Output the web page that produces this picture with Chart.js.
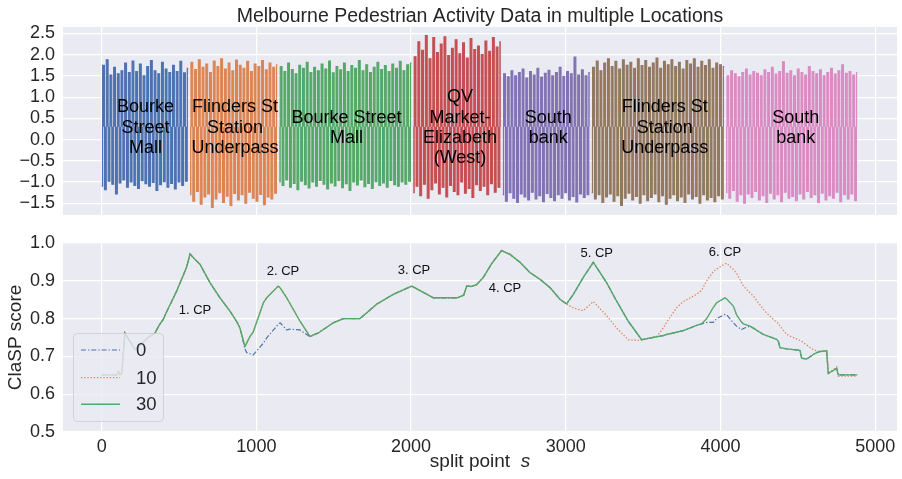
<!DOCTYPE html>
<html><head><meta charset="utf-8">
<script src="https://cdn.jsdelivr.net/npm/chart.js@4.4.0/dist/chart.umd.min.js"></script>
<style>
html,body{margin:0;padding:0;background:#fff;}
#wrap{position:relative;width:902px;height:479px;overflow:hidden;}
#c1{position:absolute;left:0;top:0;width:902px;height:230px;}
#c2{position:absolute;left:0;top:230px;width:902px;height:249px;}
</style></head><body>
<div id="wrap"><canvas id="c1" width="902" height="230"></canvas><canvas id="c2" width="902" height="249"></canvas></div>
<script>
// ---------------- DATA ----------------
const TITLE = 'Melbourne Pedestrian Activity Data in multiple Locations';
const SEG_BOUNDS = [0, 571, 1148, 2014, 2592, 3167, 4036, 4897];
const SEG_NAMES = ['Bourke\nStreet\nMall', 'Flinders St\nStation\nUnderpass', 'Bourke Street\nMall',
  'QV\nMarket-\nElizabeth\n(West)', 'South\nbank', 'Flinders St\nStation\nUnderpass', 'South\nbank'];
const SEG_LABEL_X = [284, 862, 1583, 2316, 2887, 3640, 4486];
const SEG_LABEL_Y = 0.28;

// daily peak / trough values of the z-normalised pedestrian counts, per segment
const PEAKS_BOURKE_1 = [1.75,1.88,1.52,1.70,1.55,1.62,1.80,1.58,1.85,1.60,1.78,1.50,1.72,1.86,1.62,1.55,1.82,1.66,1.58,1.75,1.60,1.84,1.57,1.68];
const TROUGHS_BOURKE_1 = [-1.10,-1.18,-0.98,-1.05,-1.28,-1.02,-0.95,-1.12,-1.00,-1.08,-1.15,-0.97,-1.04,-1.10,-1.01,-1.20,-1.06,-0.99,-1.12,-1.03,-1.16,-1.00,-1.08,-0.98];
const PEAKS_FLINDERS_1 = [1.82,1.65,1.88,1.70,1.78,1.58,1.85,1.72,1.90,1.66,1.80,1.62,1.87,1.75,1.68,1.84,1.60,1.78,1.72,1.86,1.64,1.80,1.70,1.76];
const TROUGHS_FLINDERS_1 = [-1.30,-1.45,-1.22,-1.52,-1.35,-1.28,-1.60,-1.40,-1.25,-1.48,-1.33,-1.55,-1.27,-1.42,-1.30,-1.50,-1.24,-1.38,-1.45,-1.29,-1.53,-1.35,-1.40,-1.26];
const PEAKS_BOURKE_2 = [1.72,1.60,1.80,1.65,1.55,1.75,1.68,1.82,1.58,1.70,1.62,1.78,1.66,1.85,1.57,1.72,1.64,1.80,1.60,1.74,1.68,1.86,1.62,1.76,1.58,1.70,1.82,1.65,1.74,1.60,1.78,1.68,1.84,1.62,1.76,1.80];
const TROUGHS_BOURKE_2 = [-1.00,-1.08,-0.95,-1.12,-1.03,-1.18,-0.98,-1.06,-1.14,-1.00,-1.10,-0.96,-1.05,-1.16,-1.02,-1.09,-0.97,-1.13,-1.04,-1.20,-1.00,-1.07,-0.95,-1.11,-1.03,-1.15,-0.99,-1.08,-1.02,-1.12,-0.96,-1.06,-1.10,-1.00,-1.05,-0.98];
const PEAKS_QV = [1.95,2.30,2.10,2.45,1.90,2.40,2.05,2.25,2.42,1.98,2.15,2.35,2.02,2.28,1.92,2.38,2.12,2.20,2.00,2.32,2.08,2.40,2.18,2.30];
const TROUGHS_QV = [-1.25,-1.10,-1.32,-1.05,-1.38,-1.18,-1.02,-1.28,-1.12,-1.35,-1.08,-1.22,-1.30,-1.00,-1.26,-1.15,-1.36,-1.06,-1.20,-1.10,-1.30,-1.04,-1.24,-1.12];
const PEAKS_SOUTHBANK_1 = [1.55,1.48,1.62,1.50,1.58,1.66,1.45,1.60,1.52,1.68,1.47,1.56,1.63,1.50,1.58,1.70,1.49,1.60,1.55,1.94,1.52,1.64,1.50,1.58];
const TROUGHS_SOUTHBANK_1 = [-1.30,-1.45,-1.25,-1.38,-1.48,-1.28,-1.35,-1.42,-1.24,-1.40,-1.32,-1.46,-1.27,-1.36,-1.44,-1.30,-1.38,-1.25,-1.42,-1.34,-1.47,-1.28,-1.36,-1.30];
const PEAKS_FLINDERS_2 = [1.70,1.85,1.62,1.80,1.90,1.72,1.84,1.66,1.88,1.75,1.82,1.68,1.90,1.74,1.86,1.70,1.80,1.92,1.68,1.84,1.76,1.88,1.72,1.82,1.66,1.86,1.78,1.90,1.70,1.84,1.74,1.88,1.68,1.80,1.76,1.72];
const TROUGHS_FLINDERS_2 = [-1.25,-1.40,-1.30,-1.48,-1.35,-1.28,-1.45,-1.32,-1.55,-1.38,-1.26,-1.42,-1.34,-1.50,-1.30,-1.44,-1.36,-1.28,-1.46,-1.32,-1.52,-1.38,-1.30,-1.44,-1.35,-1.48,-1.28,-1.40,-1.34,-1.50,-1.30,-1.42,-1.36,-1.46,-1.32,-1.40];
const PEAKS_SOUTHBANK_2 = [1.50,1.62,1.55,1.48,1.58,1.66,1.52,1.60,1.56,1.50,1.64,1.58,1.70,1.54,1.60,1.83,1.56,1.62,1.50,1.66,1.58,1.52,1.72,1.60,1.55,1.64,1.50,1.58,1.68,1.54,1.62,1.76,1.56,1.60,1.52,1.58];
const TROUGHS_SOUTHBANK_2 = [-1.25,-1.38,-1.20,-1.45,-1.30,-1.50,-1.28,-1.36,-1.22,-1.42,-1.32,-1.48,-1.26,-1.40,-1.30,-1.46,-1.24,-1.38,-1.34,-1.44,-1.28,-1.40,-1.22,-1.36,-1.30,-1.48,-1.26,-1.42,-1.32,-1.38,-1.24,-1.46,-1.30,-1.40,-1.28,-1.44];

const TOP_Y_TICKS = [-1.5,-1.0,-0.5,0.0,0.5,1.0,1.5,2.0,2.5];
const TOP_Y_LABELS = ['\u22121.5','\u22121.0','\u22120.5','0.0','0.5','1.0','1.5','2.0','2.5'];
const X_TICKS = [0,1000,2000,3000,4000,5000];
const X_LABELS = ['0','1000','2000','3000','4000','5000'];
const BOT_Y_TICKS = [0.5,0.6,0.7,0.8,0.9,1.0];
const BOT_Y_LABELS = ['0.5','0.6','0.7','0.8','0.9','1.0'];

// ClaSP score profile: split points and the scores for the three series
const SPLITS = [0,100,108,118,130,150,160,215,250,300,
  345,375,397,420,485,549,571,600,635,700,
  765,829,872,894,926,937,959,980,1045,1067,
  1141,1153,1196,1217,1282,1346,1400,1497,1562,1670,
  1777,1885,2004,2144,2251,2300,2340,2360,2390,2424,
  2467,2520,2585,2639,2704,2768,2833,2898,2962,3005,
  3049,3113,3178,3264,3329,3404,3480,3490,3587,3630,
  3652,3716,3760,3846,3878,3911,3954,3975,4029,4040,
  4083,4104,4137,4148,4191,4212,4277,4298,4363,4374,
  4385,4428,4514,4525,4557,4600,4622,4643,4686,4697,
  4751,4762,4884];
const SCORE_0 = [0.651,0.651,0.66,0.652,0.655,0.762,0.755,0.718,0.73,0.75,
  0.762,0.785,0.797,0.818,0.873,0.936,0.971,0.958,0.944,0.895,
  0.855,0.82,0.793,0.775,0.72,0.71,0.707,0.704,0.735,0.749,
  0.785,0.789,0.77,0.772,0.77,0.752,0.762,0.789,0.80,0.80,
  0.838,0.864,0.886,0.855,0.855,0.855,0.862,0.886,0.885,0.89,
  0.909,0.945,0.98,0.97,0.949,0.922,0.904,0.882,0.851,0.839,
  0.864,0.909,0.949,0.895,0.846,0.793,0.75,0.744,0.752,0.755,
  0.758,0.764,0.768,0.782,0.786,0.79,0.79,0.80,0.811,0.81,
  0.789,0.78,0.771,0.774,0.78,0.775,0.758,0.755,0.745,0.74,
  0.723,0.72,0.716,0.695,0.693,0.705,0.71,0.713,0.715,0.655,
  0.668,0.651,0.651];
const SCORE_10 = [0.651,0.651,0.66,0.652,0.655,0.762,0.755,0.718,0.73,0.75,
  0.762,0.785,0.797,0.818,0.873,0.936,0.971,0.958,0.944,0.895,
  0.855,0.82,0.793,0.775,0.726,0.735,0.753,0.765,0.842,0.855,
  0.886,0.882,0.855,0.84,0.793,0.753,0.762,0.789,0.80,0.80,
  0.838,0.864,0.886,0.855,0.855,0.855,0.862,0.886,0.885,0.89,
  0.909,0.945,0.98,0.97,0.949,0.922,0.904,0.882,0.851,0.839,
  0.828,0.821,0.845,0.808,0.775,0.744,0.742,0.744,0.752,0.775,
  0.79,0.829,0.845,0.864,0.875,0.90,0.925,0.931,0.945,0.946,
  0.93,0.92,0.895,0.886,0.868,0.86,0.825,0.815,0.79,0.788,
  0.78,0.758,0.742,0.74,0.73,0.718,0.715,0.712,0.715,0.655,
  0.672,0.648,0.648];
const SCORE_30 = [0.651,0.651,0.66,0.652,0.655,0.762,0.755,0.718,0.73,0.75,
  0.762,0.785,0.797,0.818,0.873,0.936,0.971,0.958,0.944,0.895,
  0.855,0.82,0.793,0.775,0.726,0.735,0.753,0.765,0.842,0.855,
  0.886,0.882,0.855,0.84,0.793,0.753,0.762,0.789,0.80,0.80,
  0.838,0.864,0.886,0.855,0.855,0.855,0.862,0.886,0.885,0.89,
  0.909,0.945,0.98,0.97,0.949,0.922,0.904,0.882,0.851,0.839,
  0.864,0.909,0.949,0.895,0.846,0.793,0.75,0.744,0.752,0.755,
  0.758,0.764,0.768,0.782,0.786,0.80,0.83,0.842,0.855,0.852,
  0.833,0.81,0.79,0.786,0.78,0.775,0.758,0.755,0.745,0.74,
  0.723,0.72,0.716,0.695,0.693,0.705,0.71,0.713,0.715,0.655,
  0.668,0.651,0.651];
const SERIES_LABELS = ['0','10','30'];

const CP_LABELS = ['1. CP','2. CP','3. CP','4. CP','5. CP','6. CP'];
const CP_X = [603,1172,2019,2607,3200,4029];
const CP_Y = [0.822,0.924,0.927,0.880,0.973,0.975];

// ---------------- STYLE ----------------
const FONT = '"Liberation Sans", Arial, Helvetica, sans-serif';
const BG = '#EAEAF2';
const TXT = '#262626';
const SEG_COLORS = ['#4C72B0','#DD8452','#55A868','#C44E52','#8172B3','#937860','#DA8BC3'];
const SERIES_COLORS = ['#4C72B0','#DD8452','#55A868'];
const X_MIN = -250, X_MAX = 5141;
const BAND_BASE = 0.3;

const SEG_PEAKS = [PEAKS_BOURKE_1,PEAKS_FLINDERS_1,PEAKS_BOURKE_2,PEAKS_QV,PEAKS_SOUTHBANK_1,PEAKS_FLINDERS_2,PEAKS_SOUTHBANK_2];
const SEG_TROUGHS = [TROUGHS_BOURKE_1,TROUGHS_FLINDERS_1,TROUGHS_BOURKE_2,TROUGHS_QV,TROUGHS_SOUTHBANK_1,TROUGHS_FLINDERS_2,TROUGHS_SOUTHBANK_2];

function segmentPoints(i){
  const a = SEG_BOUNDS[i], b = SEG_BOUNDS[i+1];
  const hi = SEG_PEAKS[i], lo = SEG_TROUGHS[i];
  const n = hi.length, w = (b - a) / n;
  const pts = [];
  for (let k = 0; k < n; k++){
    pts.push({x: a + k*w, y: lo[k]});
    pts.push({x: a + (k+0.5)*w, y: hi[k]});
  }
  return pts;
}

const bgPlugin = { id:'bgArea', beforeDraw(chart){
  const {ctx, chartArea:a} = chart;
  ctx.save(); ctx.fillStyle = BG; ctx.fillRect(a.left, a.top, a.right-a.left, a.bottom-a.top); ctx.restore();
}};

function gridOpts(){ return {color:'#ffffff', lineWidth:1.2, drawTicks:false}; }

// ---------------- TOP CHART ----------------
const topTexts = { id:'topTexts', afterDatasetsDraw(chart){
  const {ctx, scales:{x,y}, chartArea:a} = chart;
  ctx.save();
  ctx.fillStyle = '#000'; ctx.textAlign = 'center'; ctx.textBaseline = 'middle';
  ctx.font = `18px ${FONT}`;
  SEG_NAMES.forEach((name, i) => {
    const lines = name.split('\n');
    const cx = x.getPixelForValue(SEG_LABEL_X[i]);
    const cy = y.getPixelForValue(SEG_LABEL_Y);
    const lh = 20.3;
    lines.forEach((ln, j) => ctx.fillText(ln, cx, cy + (j - (lines.length-1)/2) * lh));
  });
  ctx.fillStyle = TXT; ctx.textBaseline = 'alphabetic';
  ctx.font = `19.5px ${FONT}`;
  ctx.fillText(TITLE, (a.left + a.right)/2, 21.8);
  ctx.restore();
}};

new Chart(document.getElementById('c1'), {
  type:'line',
  data:{ datasets: SEG_BOUNDS.slice(0,-1).map((_, i) => ({
    data: segmentPoints(i), borderColor: SEG_COLORS[i], backgroundColor: SEG_COLORS[i],
    borderWidth: 1.1, pointRadius: 0, tension: 0, stepped: 'middle',
    fill: {value: BAND_BASE}
  }))},
  options:{
    responsive:false, animation:false, devicePixelRatio:1,
    layout:{padding:{left:0, right:5, top:27, bottom:0}},
    plugins:{legend:{display:false}, tooltip:{enabled:false}, title:{display:false}},
    scales:{
      x:{type:'linear', min:X_MIN, max:X_MAX,
        afterBuildTicks(s){ s.ticks = X_TICKS.map(v => ({value:v})); },
        ticks:{display:false}, grid:gridOpts(), border:{display:false},
        afterFit(s){ s.height = 15; s.paddingLeft = 0; s.paddingRight = 0; }},
      y:{type:'linear', min:-1.775, max:2.65,
        afterBuildTicks(s){ s.ticks = TOP_Y_TICKS.map(v => ({value:v})); },
        ticks:{color:TXT, font:{family:FONT, size:18}, padding:8, autoSkip:false, callback:(v,i)=>TOP_Y_LABELS[i]},
        grid:gridOpts(), border:{display:false},
        afterFit(s){ s.width = 63; s.paddingTop = 0; s.paddingBottom = 0; }}
    }
  },
  plugins:[bgPlugin, topTexts]
});

// ---------------- BOTTOM CHART ----------------
const DASHES = [[5,2,1.3,2],[1.3,1.9],[]];
const WIDTHS = [1.2,1.3,1.4];
const botTexts = { id:'botTexts', afterDatasetsDraw(chart){
  const {ctx, scales:{x,y}, chartArea:a} = chart;
  ctx.save();
  // change point annotations
  ctx.fillStyle = '#111'; ctx.textAlign = 'center'; ctx.textBaseline = 'middle';
  ctx.font = `13px ${FONT}`;
  CP_LABELS.forEach((t, i) => ctx.fillText(t, x.getPixelForValue(CP_X[i]), y.getPixelForValue(CP_Y[i])));
  // legend
  const bx = 73.5, by = 103.5, bw = 90, bh = 88, r = 4;
  ctx.beginPath();
  ctx.moveTo(bx+r, by); ctx.lineTo(bx+bw-r, by); ctx.quadraticCurveTo(bx+bw, by, bx+bw, by+r);
  ctx.lineTo(bx+bw, by+bh-r); ctx.quadraticCurveTo(bx+bw, by+bh, bx+bw-r, by+bh);
  ctx.lineTo(bx+r, by+bh); ctx.quadraticCurveTo(bx, by+bh, bx, by+bh-r);
  ctx.lineTo(bx, by+r); ctx.quadraticCurveTo(bx, by, bx+r, by); ctx.closePath();
  ctx.fillStyle = 'rgba(234,234,242,0.8)'; ctx.fill();
  ctx.strokeStyle = 'rgba(204,204,204,0.8)'; ctx.lineWidth = 1; ctx.stroke();
  const rows = [120, 147.7, 174.3];
  chart.data.datasets.forEach((ds, i) => {
    ctx.beginPath(); ctx.setLineDash(DASHES[i]); ctx.lineWidth = WIDTHS[i];
    ctx.strokeStyle = ds.borderColor; ctx.moveTo(81, rows[i]); ctx.lineTo(120, rows[i]); ctx.stroke();
    ctx.setLineDash([]);
    ctx.fillStyle = TXT; ctx.textAlign = 'left'; ctx.textBaseline = 'middle';
    ctx.font = `18.5px ${FONT}`;
    ctx.fillText(ds.label, 136, rows[i] + 1);
  });
  ctx.restore();
}, afterDraw(chart){
  const {ctx, chartArea:a} = chart;
  ctx.save();
  ctx.fillStyle = TXT; ctx.textBaseline = 'alphabetic'; ctx.textAlign = 'left';
  const p1 = 'split point  ', p2 = 's';
  ctx.font = `19px ${FONT}`; const w1 = ctx.measureText(p1).width;
  ctx.font = `italic 19px ${FONT}`; const w2 = ctx.measureText(p2).width;
  const x0 = (a.left + a.right)/2 - (w1 + w2)/2;
  ctx.font = `19px ${FONT}`; ctx.fillText(p1, x0, 237);
  ctx.font = `italic 19px ${FONT}`; ctx.fillText(p2, x0 + w1, 237);
  ctx.restore();
}};

const SCORES = [SCORE_0, SCORE_10, SCORE_30];
new Chart(document.getElementById('c2'), {
  type:'line',
  data:{ datasets: SCORES.map((arr, i) => ({
    label: SERIES_LABELS[i],
    data: SPLITS.map((s, k) => ({x:s, y:arr[k]})),
    borderColor: SERIES_COLORS[i], borderWidth: WIDTHS[i], borderDash: DASHES[i],
    pointRadius: 0, tension: 0, fill:false, order: 2 - i
  }))},
  options:{
    responsive:false, animation:false, devicePixelRatio:1,
    layout:{padding:{left:0, right:5, top:13, bottom:0}},
    plugins:{legend:{display:false}, tooltip:{enabled:false}},
    scales:{
      x:{type:'linear', min:X_MIN, max:X_MAX,
        afterBuildTicks(s){ s.ticks = X_TICKS.map(v => ({value:v})); },
        ticks:{color:TXT, font:{family:FONT, size:18}, padding:4, maxRotation:0, autoSkip:false, callback:(v,i)=>X_LABELS[i]},
        grid:gridOpts(), border:{display:false},
        afterFit(s){ s.height = 47; s.paddingLeft = 0; s.paddingRight = 0; }},
      y:{type:'linear', min:0.5, max:1.0,
        afterBuildTicks(s){ s.ticks = BOT_Y_TICKS.map(v => ({value:v})); },
        ticks:{color:TXT, font:{family:FONT, size:18}, padding:8, autoSkip:false, callback:(v,i)=>BOT_Y_LABELS[i]},
        title:{display:true, text:'ClaSP score', color:TXT, font:{family:FONT, size:19}, padding:{top:4, bottom:0}},
        grid:gridOpts(), border:{display:false},
        afterFit(s){ s.width = 63; s.paddingTop = 0; s.paddingBottom = 0; }}
    }
  },
  plugins:[bgPlugin, botTexts]
});
</script>
</body></html>
